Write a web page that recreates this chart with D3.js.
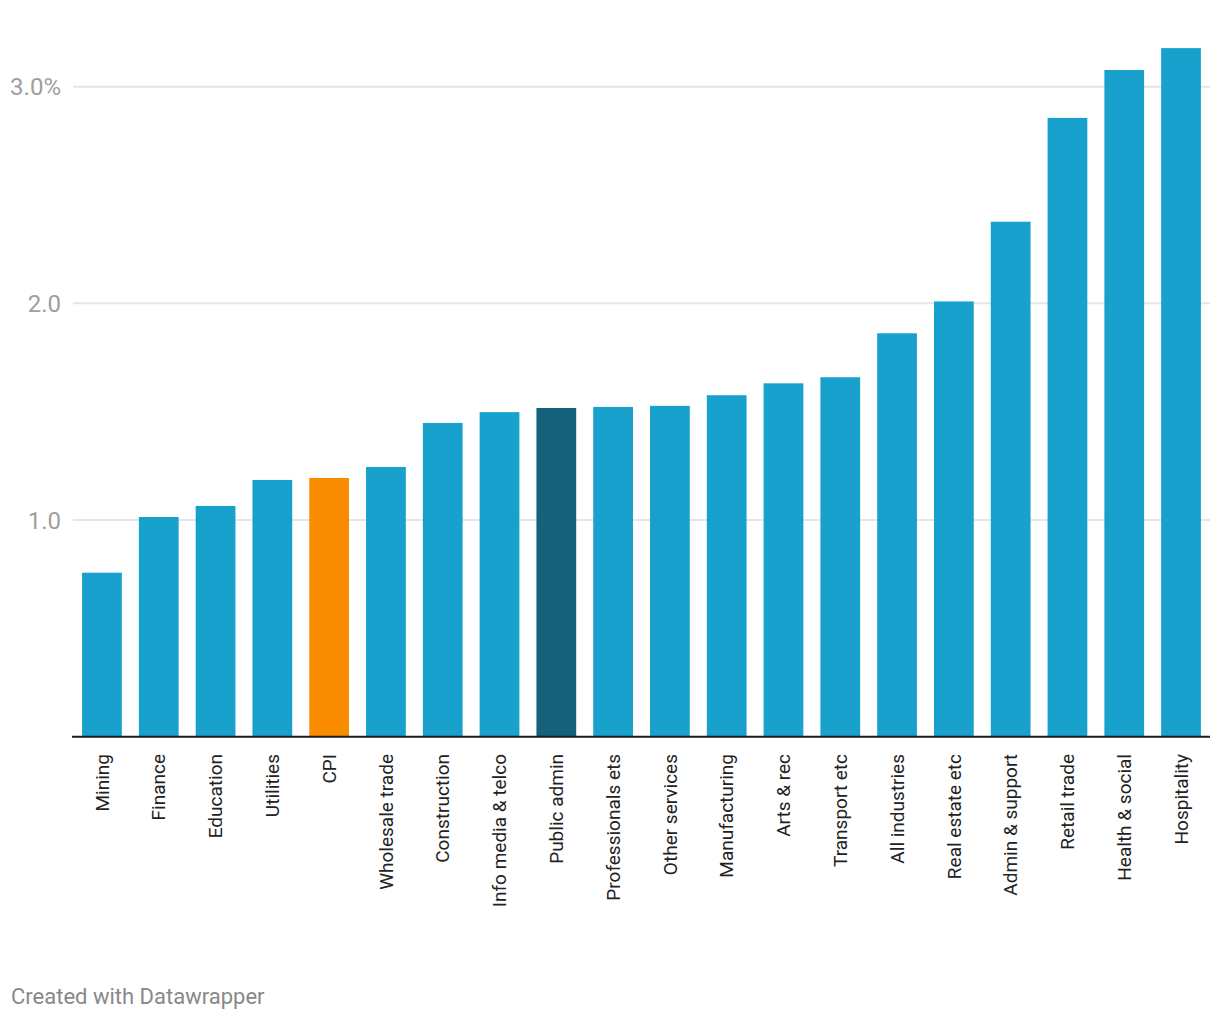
<!DOCTYPE html>
<html>
<head>
<meta charset="utf-8">
<script src="https://cdn.jsdelivr.net/npm/d3@7"></script>
<style>
  html, body { margin: 0; padding: 0; background: #fff; }
  svg { display: block; font-family: Roboto, "Noto Sans", sans-serif; }
</style>
</head>
<body>
<svg id="chart" width="1220" height="1020"></svg>
<script>
const categories = ["Mining","Finance","Education","Utilities","CPI","Wholesale trade","Construction","Info media & telco","Public admin","Professionals ets","Other services","Manufacturing","Arts & rec","Transport etc","All industries","Real estate etc","Admin & support","Retail trade","Health & social","Hospitality"];
const values = [0.757,1.014,1.065,1.185,1.194,1.245,1.448,1.498,1.517,1.522,1.527,1.576,1.631,1.659,1.862,2.009,2.377,2.856,3.077,3.178];
const yTicks = [1, 2, 3];
const yTickLabels = ["1.0", "2.0", "3.0%"];
const footerText = "Created with Datawrapper";

const baseColor = "#18a1cd";
const highlight = { "CPI": "#fa8c00", "Public admin": "#15607a" };

const svg = d3.select("#chart");
const data = categories.map((c, i) => ({ cat: c, val: values[i] }));

const x = d3.scaleBand().domain(categories).range([73, 1210]).paddingInner(0.3).paddingOuter(0.16);
const y = d3.scaleLinear().domain([0, 3]).range([736.7, 86.7]);

// gridlines
const grid = svg.append("g");
grid.selectAll("line").data(yTicks).join("line")
  .attr("x1", 73).attr("x2", 1210)
  .attr("y1", d => y(d)).attr("y2", d => y(d))
  .attr("stroke", "#e5e5e5").attr("stroke-width", 2);

// y labels
svg.append("g").selectAll("text").data(yTicks).join("text")
  .attr("x", 61).attr("y", d => y(d)).attr("dy", "0.36em")
  .attr("text-anchor", "end")
  .attr("font-size", 24).attr("fill", "#9e9e9e")
  .text((d, i) => yTickLabels[i]);

// bars
svg.append("g").selectAll("rect").data(data).join("rect")
  .attr("x", d => x(d.cat)).attr("width", x.bandwidth())
  .attr("y", d => y(d.val)).attr("height", d => y(0) - y(d.val))
  .attr("fill", d => highlight[d.cat] || baseColor);

// baseline
svg.append("line")
  .attr("x1", 72).attr("x2", 1210)
  .attr("y1", y(0)).attr("y2", y(0))
  .attr("stroke", "#1d1d1d").attr("stroke-width", 2);

// x labels
svg.append("g").selectAll("text").data(data).join("text")
  .attr("transform", d => `translate(${x(d.cat) + x.bandwidth() / 2},754) rotate(-90)`)
  .attr("dy", "0.35em")
  .attr("text-anchor", "end")
  .attr("font-size", 19).attr("fill", "#222")
  .text(d => d.cat);

// footer
svg.append("text")
  .attr("x", 11).attr("y", 1004)
  .attr("font-size", 22).attr("fill", "#888")
  .text(footerText);
</script>
</body>
</html>
